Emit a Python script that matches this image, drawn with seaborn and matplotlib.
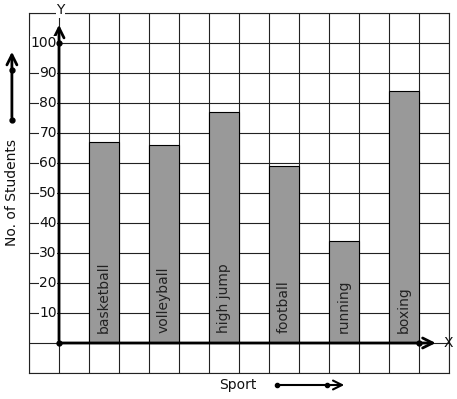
import matplotlib
matplotlib.use("Agg")
import matplotlib.pyplot as plt
import numpy as np
import seaborn as sns

sports = ["basketball", "volleyball", "high jump", "football", "running", "boxing"]
students = [67, 66, 77, 59, 34, 84]
y_ticks = [10, 20, 30, 40, 50, 60, 70, 80, 90, 100]

sns.set_style("white")
plt.rcParams["font.family"] = ["DejaVu Sans"]

fig = plt.figure(figsize=(4.57, 3.99), dpi=100)
ax = fig.add_axes([29 / 457, 26 / 399, 420 / 457, 360 / 399])

# bars sit in every other grid column, starting one column right of the y axis
positions = [2 * i + 1.5 for i in range(len(sports))]
sns.barplot(x=positions, y=students, native_scale=True, width=0.5,
            color="#999999", saturation=1, edgecolor="black", linewidth=0.8, ax=ax)

ax.set_xlim(-1, 13)
ax.set_ylim(-10, 110)
ax.set_xticks(np.arange(-1, 14, 1))
ax.set_yticks(np.arange(-10, 111, 10))
ax.set_xticklabels([])
ax.set_yticklabels([])
ax.tick_params(length=0)
ax.grid(True, color="#222222", linewidth=0.8)
ax.set_axisbelow(True)
for s in ax.spines.values():
    s.set_color("#222222")
    s.set_linewidth(0.8)
ax.set_xlabel("")
ax.set_ylabel("")

arrow = dict(arrowstyle="->", lw=2, color="black", mutation_scale=18)

# axes with arrows
ax.annotate("", xy=(0, 107), xytext=(0, 0), arrowprops=arrow)
ax.annotate("", xy=(12.65, 0), xytext=(0, 0), arrowprops=arrow)
ax.plot([0, 0, 12], [0, 100, 0], "o", color="black", ms=3.5, zorder=5)
ax.text(12.97, 0, "X", ha="center", va="center", fontsize=10, color="#111111")
ax.text(0.05, 111, "Y", ha="center", va="center", fontsize=10, color="#111111",
        bbox=dict(facecolor="white", edgecolor="none", pad=0.5), clip_on=False)

# y tick labels sitting over the grid
for v in y_ticks:
    ax.text(-0.07, v, str(v), ha="right", va="center", fontsize=10, color="#111111",
            bbox=dict(facecolor="white", edgecolor="none", pad=0.3), zorder=4)

# sport names inside bars
for p, name in zip(positions, sports):
    ax.text(p, 3.3, name, rotation=90, ha="center", va="bottom", fontsize=10,
            color="#222222", zorder=4)

# outside labels and arrows
ax.text(-1.57, 50, "No. of Students", rotation=90, ha="center", va="center",
        fontsize=10, color="#111111", clip_on=False)
ax.annotate("", xy=(-1.57, 98), xytext=(-1.57, 74.3),
            arrowprops=arrow, annotation_clip=False)
ax.plot([-1.57, -1.57], [74.3, 91], "o", color="black", ms=3.5, clip_on=False)

ax.text(5.97, -14, "Sport", ha="center", va="center", fontsize=10, color="#111111",
        clip_on=False)
ax.annotate("", xy=(9.6, -14), xytext=(7.27, -14),
            arrowprops=dict(arrowstyle="->", lw=1.5, color="black", mutation_scale=16),
            annotation_clip=False)
ax.plot([7.27, 8.93], [-14, -14], "o", color="black", ms=3, clip_on=False)

fig.savefig("out.png", dpi=100)
